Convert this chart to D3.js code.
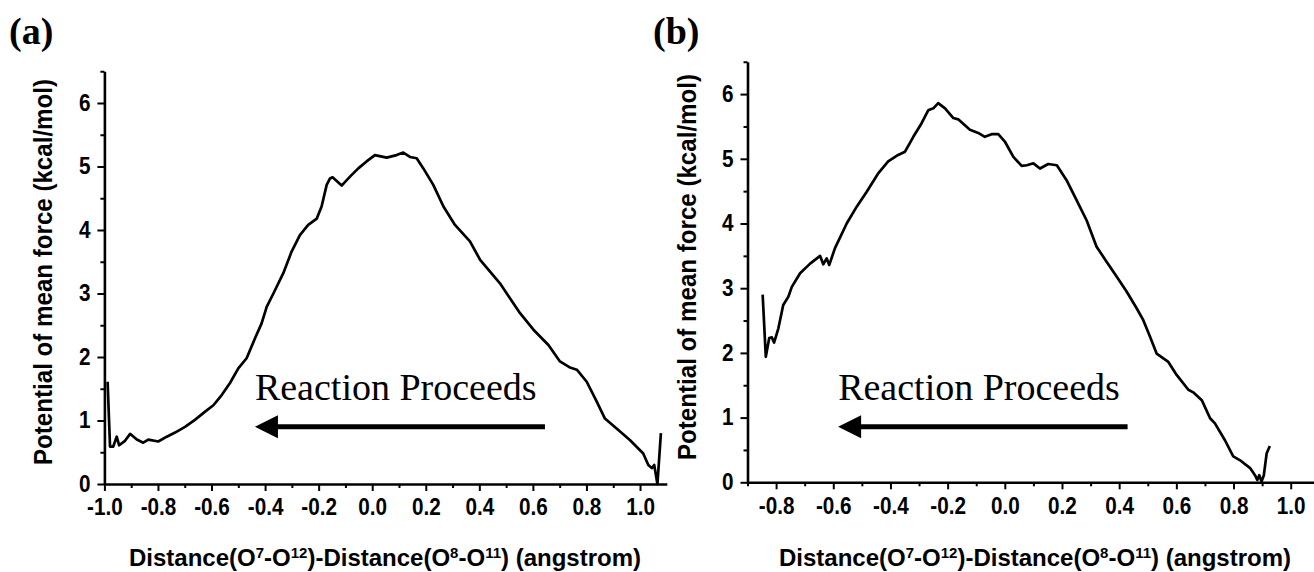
<!DOCTYPE html>
<html>
<head>
<meta charset="utf-8">
<script src="https://cdn.jsdelivr.net/npm/d3@7"></script>
<style>
  body { margin: 0; background: #fff; }
  svg { display: block; }
</style>
</head>
<body>
<script>
// PMF along the reaction coordinate
const pmfA_x = [-0.988,-0.979,-0.967,-0.954,-0.945,-0.923,-0.904,-0.879,-0.855,-0.836,-0.799,-0.767,-0.736,-0.699,-0.662,-0.624,-0.593,-0.562,-0.531,-0.500,-0.469,-0.438,-0.413,-0.394,-0.369,-0.332,-0.301,-0.270,-0.239,-0.207,-0.189,-0.170,-0.158,-0.148,-0.114,-0.083,-0.052,-0.021,0.010,0.054,0.091,0.116,0.141,0.166,0.191,0.228,0.266,0.309,0.365,0.403,0.477,0.515,0.552,0.602,0.658,0.701,0.736,0.764,0.801,0.838,0.869,0.919,0.963,1.012,1.031,1.044,1.053,1.065,1.078];
const pmfA_y = [1.61,0.59,0.59,0.745,0.61,0.68,0.79,0.70,0.65,0.70,0.67,0.745,0.81,0.90,1.01,1.14,1.24,1.40,1.59,1.82,1.98,2.29,2.53,2.79,3.00,3.32,3.66,3.92,4.08,4.18,4.37,4.71,4.81,4.83,4.70,4.84,4.97,5.08,5.18,5.14,5.18,5.22,5.15,5.13,4.97,4.71,4.37,4.08,3.82,3.53,3.16,2.92,2.69,2.43,2.19,1.93,1.84,1.80,1.61,1.30,1.03,0.85,0.69,0.48,0.30,0.25,0.30,0.0,0.80];

const pmfB_x = [-0.847,-0.836,-0.824,-0.815,-0.807,-0.792,-0.775,-0.757,-0.745,-0.716,-0.681,-0.646,-0.635,-0.623,-0.614,-0.594,-0.553,-0.518,-0.483,-0.442,-0.408,-0.373,-0.349,-0.320,-0.291,-0.268,-0.250,-0.233,-0.209,-0.180,-0.163,-0.122,-0.093,-0.070,-0.046,-0.023,0.001,0.030,0.059,0.077,0.100,0.123,0.152,0.182,0.216,0.251,0.286,0.321,0.356,0.391,0.426,0.461,0.484,0.508,0.531,0.572,0.601,0.642,0.659,0.689,0.718,0.735,0.770,0.799,0.823,0.858,0.875,0.883,0.890,0.898,0.906,0.916,0.927];
const pmfB_y = [2.90,1.94,2.23,2.24,2.16,2.38,2.74,2.87,3.02,3.23,3.38,3.50,3.37,3.46,3.36,3.62,4.00,4.26,4.49,4.78,4.96,5.06,5.11,5.34,5.55,5.75,5.78,5.86,5.78,5.63,5.61,5.45,5.40,5.34,5.38,5.38,5.26,5.03,4.89,4.90,4.93,4.85,4.92,4.90,4.67,4.36,4.05,3.64,3.41,3.18,2.95,2.69,2.51,2.25,1.99,1.86,1.66,1.43,1.39,1.27,0.99,0.91,0.65,0.40,0.34,0.22,0.11,0.035,0.11,0.01,0.11,0.45,0.56];

const yMajor = [0, 1, 2, 3, 4, 5, 6];
const yMinor = [0.5, 1.5, 2.5, 3.5, 4.5, 5.5, 6.5];
const xMajorA = [-1.0,-0.8,-0.6,-0.4,-0.2,0.0,0.2,0.4,0.6,0.8,1.0];
const xMinorA = [-0.9,-0.7,-0.5,-0.3,-0.1,0.1,0.3,0.5,0.7,0.9];
const xMajorB = [-0.8,-0.6,-0.4,-0.2,0.0,0.2,0.4,0.6,0.8,1.0];
const xMinorB = [-0.9,-0.7,-0.5,-0.3,-0.1,0.1,0.3,0.5,0.7,0.9];

const panelLabels = ["(a)", "(b)"];
const yTitle = "Potential of mean force (kcal/mol)";
const arrowText = "Reaction Proceeds";

width = 1314
height = 572

const sans = "'Liberation Sans', Arial, sans-serif";
const serif = "'Liberation Serif', 'Times New Roman', serif";

const svg = d3.select("body").append("svg")
    .attr("width", width)
    .attr("height", height);

// squeeze a text horizontally (the figure's labels are a bit condensed)
function squeeze(sel, k) {
  sel.each(function() {
    const len = this.getComputedTextLength();
    d3.select(this).attr("textLength", len * k).attr("lengthAdjust", "spacingAndGlyphs");
  });
}

function drawPanel(p) {
  const x = d3.scaleLinear().domain(p.xDomain).range(p.xRange);
  const y = d3.scaleLinear().domain([0, 6.5]).range(p.yRange);
  const g = svg.append("g");

  // minor ticks
  g.append("g")
      .attr("transform", `translate(0,${p.yRange[0]})`)
      .call(d3.axisBottom(x).tickValues(p.xMinor).tickSize(4).tickFormat(""))
      .call(g => g.select(".domain").remove());
  g.append("g")
      .attr("transform", `translate(${p.xRange[0]},0)`)
      .call(d3.axisLeft(y).tickValues(yMinor).tickSize(4).tickFormat(""))
      .call(g => g.select(".domain").remove());

  // major ticks + labels
  g.append("g")
      .attr("transform", `translate(0,${p.yRange[0]})`)
      .call(d3.axisBottom(x).tickValues(p.xMajor).tickSize(7).tickPadding(8)
        .tickSizeOuter(0).tickFormat(d => d.toFixed(1)));
  g.append("g")
      .attr("transform", `translate(${p.xRange[0]},0)`)
      .call(d3.axisLeft(y).tickValues(yMajor).tickSize(7).tickPadding(7)
        .tickSizeOuter(0).tickFormat(d => d));

  g.selectAll(".tick line").attr("stroke", "#000").attr("stroke-width", 2);
  g.selectAll(".domain").attr("stroke", "#000").attr("stroke-width", 2.6);
  g.selectAll(".tick text")
      .attr("fill", "#000")
      .style("font-family", sans)
      .style("font-weight", "bold")
      .style("font-size", "23px")
      .call(squeeze, 0.9);

  // curve
  const line = d3.line()
      .x(d => x(d[0]))
      .y(d => y(d[1]));
  g.append("path")
      .datum(d3.zip(p.xs, p.ys))
      .attr("fill", "none")
      .attr("stroke", "#000")
      .attr("stroke-width", 2.7)
      .attr("stroke-linejoin", "round")
      .attr("d", line);

  // arrow + caption
  const ay = y(p.arrowY);
  const tipX = x(p.arrowTip);
  g.append("line")
      .attr("x1", x(p.arrowStart)).attr("y1", ay)
      .attr("x2", tipX + 20).attr("y2", ay)
      .attr("stroke", "#000").attr("stroke-width", 5);
  g.append("path")
      .attr("d", `M${tipX},${ay}L${tipX + 23},${ay - 11.5}L${tipX + 23},${ay + 11.5}Z`)
      .attr("fill", "#000");
  g.append("text")
      .attr("x", x(p.arrowTip))
      .attr("y", y(p.textY))
      .style("font-family", serif)
      .style("font-size", "38px")
      .text(arrowText);

  // axis titles
  g.append("text")
      .attr("transform", `translate(${p.yTitleX},${p.yTitleY}) rotate(-90)`)
      .attr("text-anchor", "middle")
      .style("font-family", sans)
      .style("font-weight", "bold")
      .style("font-size", "26px")
      .attr("textLength", 386)
      .attr("lengthAdjust", "spacingAndGlyphs")
      .text(yTitle);

  const xt = g.append("text")
      .attr("x", p.xTitleX)
      .attr("y", 566)
      .attr("text-anchor", "middle")
      .style("font-family", sans)
      .style("font-weight", "bold")
      .style("font-size", "24px");
  const parts = [["Distance(O", 0], ["7", 1], ["-O", 0], ["12", 1], [")-Distance(O", 0],
                 ["8", 1], ["-O", 0], ["11", 1], [") (angstrom)", 0]];
  let up = false;
  parts.forEach(([t, sup]) => {
    const ts = xt.append("tspan").text(t);
    if (sup && !up) { ts.attr("dy", -8).style("font-size", "15px"); up = true; }
    else if (sup) { ts.style("font-size", "15px"); }
    else if (up) { ts.attr("dy", 8); up = false; }
  });

  // panel label
  g.append("text")
      .attr("x", p.labelX)
      .attr("y", 44)
      .style("font-family", serif)
      .style("font-weight", "bold")
      .style("font-size", "38px")
      .text(p.label);
}

drawPanel({
  xs: pmfA_x, ys: pmfA_y,
  xDomain: [-1.0, 1.1], xRange: [104.4, 666.8], yRange: [484, 71.25],
  xMajor: xMajorA, xMinor: xMinorA,
  arrowStart: 0.645, arrowTip: -0.438, arrowY: 0.9, textY: 1.32,
  yTitleX: 52, yTitleY: 272, xTitleX: 385,
  label: panelLabels[0], labelX: 9
});

drawPanel({
  xs: pmfB_x, ys: pmfB_y,
  xDomain: [-0.9, 1.1], xRange: [747.5, 1319.3], yRange: [482.3, 61.75],
  xMajor: xMajorB, xMinor: xMinorB,
  arrowStart: 0.4295, arrowTip: -0.583, arrowY: 0.86, textY: 1.27,
  yTitleX: 696, yTitleY: 267, xTitleX: 1035,
  label: panelLabels[1], labelX: 653
});
</script>
</body>
</html>
